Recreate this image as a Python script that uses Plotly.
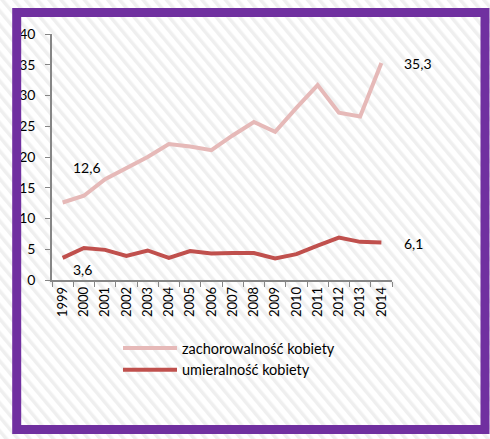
import plotly.graph_objects as go
import urllib.parse

years = [str(y) for y in range(1999, 2015)]
zachorowalnosc = [12.6, 13.7, 16.4, 18.2, 20.0, 22.1, 21.7, 21.1, 23.5, 25.7, 24.1, 28.0, 31.7, 27.2, 26.6, 35.3]
umieralnosc = [3.6, 5.2, 4.9, 3.9, 4.8, 3.6, 4.7, 4.3, 4.4, 4.4, 3.5, 4.2, 5.6, 6.9, 6.2, 6.1]
series_names = ["zachorowalność kobiety", "umieralność kobiety"]
y_ticks = [0, 5, 10, 15, 20, 25, 30, 35, 40]

W, H = 490, 439
L, R, T, B = 52, 98, 34, 159
PW, PH = W - L - R, H - T - B

FONT = "Lato"

def fmt(v):
    return f"{v:.1f}".replace(".", ",")

fig = go.Figure()
fig.add_trace(go.Scatter(x=years, y=zachorowalnosc, mode="lines", name=series_names[0],
                         line=dict(color="#E6B9B8", width=4), legendgroup="a"))
fig.add_trace(go.Scatter(x=years, y=umieralnosc, mode="lines", name=series_names[1],
                         line=dict(color="#C0504D", width=4), legendgroup="b"))

# data labels (first and last points)
last = len(years) - 1
labels = [
    (0, zachorowalnosc[0], 24, 35),
    (last, zachorowalnosc[-1], 37, -1),
    (0, umieralnosc[0], 20, -12),
    (last, umieralnosc[-1], 32, -1),
]
annotations = []
for xi, yv, dx, dy in labels:
    annotations.append(dict(x=xi, y=yv, xref="x", yref="y", text=fmt(yv), showarrow=False,
                            xshift=dx, yshift=dy, font=dict(family=FONT, size=14, color="#000000")))

# striped background
svg = (
    f'<svg xmlns="http://www.w3.org/2000/svg" width="{W}" height="{H}" viewBox="0 0 {W} {H}">'
    '<defs><pattern id="p" width="9" height="9" patternUnits="userSpaceOnUse" '
    'patternTransform="rotate(-40)"><rect width="9" height="9" fill="#ffffff"/>'
    '<rect width="3.5" height="9" fill="#efefef"/></pattern></defs>'
    f'<rect width="{W}" height="{H}" fill="url(#p)"/></svg>'
)
src = "data:image/svg+xml;charset=utf-8," + urllib.parse.quote(svg)

def px2x(p):
    return (p - L) / PW

def py2y(p):
    return 1 - (p - T) / PH

fig.update_layout(
    width=W, height=H,
    margin=dict(l=L, r=R, t=T, b=B, autoexpand=False),
    paper_bgcolor="#ffffff",
    plot_bgcolor="rgba(0,0,0,0)",
    font=dict(family=FONT, size=14, color="#000000"),
    showlegend=True,
    annotations=annotations,
    images=[dict(source=src, xref="paper", yref="paper",
                 x=-L / PW, y=1 + T / PH, sizex=W / PW, sizey=H / PH,
                 sizing="stretch", xanchor="left", yanchor="top", layer="below")],
    shapes=[dict(type="rect", xref="paper", yref="paper",
                 x0=px2x(16.7), x1=px2x(485), y0=py2y(429.5), y1=py2y(12.5),
                 line=dict(color="#7030A0", width=9), fillcolor="rgba(0,0,0,0)", layer="above")],
    legend=dict(x=px2x(118), y=py2y(332), xanchor="left", yanchor="top",
                bgcolor="rgba(0,0,0,0)", font=dict(family=FONT, size=14.5),
                tracegroupgap=6, itemwidth=54, traceorder="normal"),
    xaxis=dict(type="category", range=[-0.5, 15.5], showgrid=False, zeroline=False,
               showline=True, linecolor="#868686", linewidth=1.5, automargin=False,
               ticks="outside", ticklen=5, tickcolor="#868686", tickson="boundaries",
               tickangle=-90, tickfont=dict(family=FONT, size=13)),
    yaxis=dict(range=[0, 40], tickvals=y_ticks, showgrid=False, zeroline=False,
               showline=True, linecolor="#868686", linewidth=1.5, automargin=False,
               ticks="outside", ticklen=5, tickcolor="#868686",
               ticklabelstandoff=7, tickfont=dict(family=FONT, size=14)),
)

fig.write_html("out.html", config={"displayModeBar": False},
               post_script="document.body.style.margin='0';document.body.style.padding='0';")
